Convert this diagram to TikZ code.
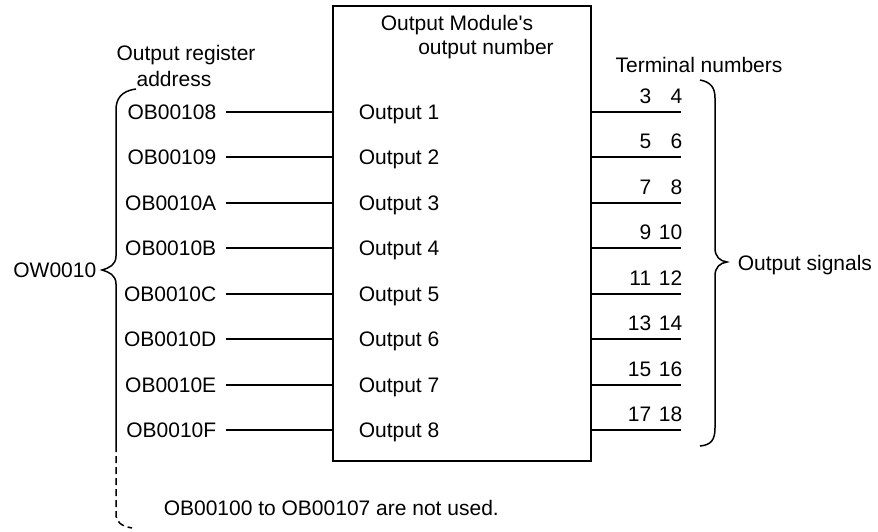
\documentclass[tikz,border=0pt]{standalone}
\usepackage{fontspec}
\setmainfont{Liberation Sans}
\usetikzlibrary{positioning,calc}

\begin{document}
\begin{tikzpicture}[x=1pt, y=-1pt, line width=1.5pt,
    every node/.style={font=\fontsize{21}{25}\selectfont, inner sep=0pt},
    addr/.style={anchor=base east, inner xsep=9pt},
    outlbl/.style={anchor=base west},
    term/.style={anchor=base east},
    lbl/.style={anchor=base}]
    \useasboundingbox (0,0) rectangle (878,531);
    \node[draw, anchor=north west, minimum width=258pt, minimum height=455pt] (box) at (332,5) {};

    \node[lbl] (modA) at (457,30) {Output Module\textquotesingle s};
    \node[lbl] (modB) at (486,54) {output number};
    \node[lbl] (regA) at (186,60) {Output register};
    \node[lbl] (regB) at (174,86) {address};
    \node[lbl] (termlbl) at (699,72) {Terminal numbers};

    \foreach \addr [count=\i] in {OB00108,OB00109,OB0010A,OB0010B,OB0010C,OB0010D,OB0010E,OB0010F} {
        \pgfmathtruncatemacro\y{round(112+(\i-1)*45.43)}
        \pgfmathtruncatemacro\ta{2*\i+1}
        \pgfmathtruncatemacro\tb{2*\i+2}
        \node[addr] (a\i) at (226,\y+7) {\addr};
        \node[outlbl] (o\i) at (358,\y+7) {Output \i};
        \coordinate (s\i) at (226,\y);
        \coordinate (t\i) at (681,\y);
        \node[term] (na\i) at (652,\y-9) {\ta};
        \node[term] (nb\i) at (683,\y-9) {\tb};
        \draw (s\i) -- (s\i -| box.west);
        \draw (box.east |- t\i) -- (t\i);
    }

    % left brace, dashed tail for the unused bits
    \draw (136,89) .. controls (121,91) and (116,99) .. (116,110) -- (116,256)
        .. controls (116,265) and (109,268) .. (102,270)
        .. controls (109,272) and (116,275) .. (116,284) -- (116,445);
    \draw[dash pattern=on 7pt off 4pt] (116,445) -- (116,514) .. controls (116,522) and (121,526) .. (132,528);
    \node[anchor=base east] (ow) at (97,277) {OW0010};

    % right brace
    \draw (700,80) .. controls (711,82) and (715,88) .. (715,98) -- (715,248)
        .. controls (715,257) and (720,261) .. (727,262)
        .. controls (720,263) and (715,267) .. (715,276) -- (715,428)
        .. controls (715,440) and (711,445) .. (700,446);
    \node[anchor=base west] (sig) at (737,270) {Output signals};

    \node[anchor=base west] (note) at (163,515) {OB00100 to OB00107 are not used.};
\end{tikzpicture}
\end{document}
